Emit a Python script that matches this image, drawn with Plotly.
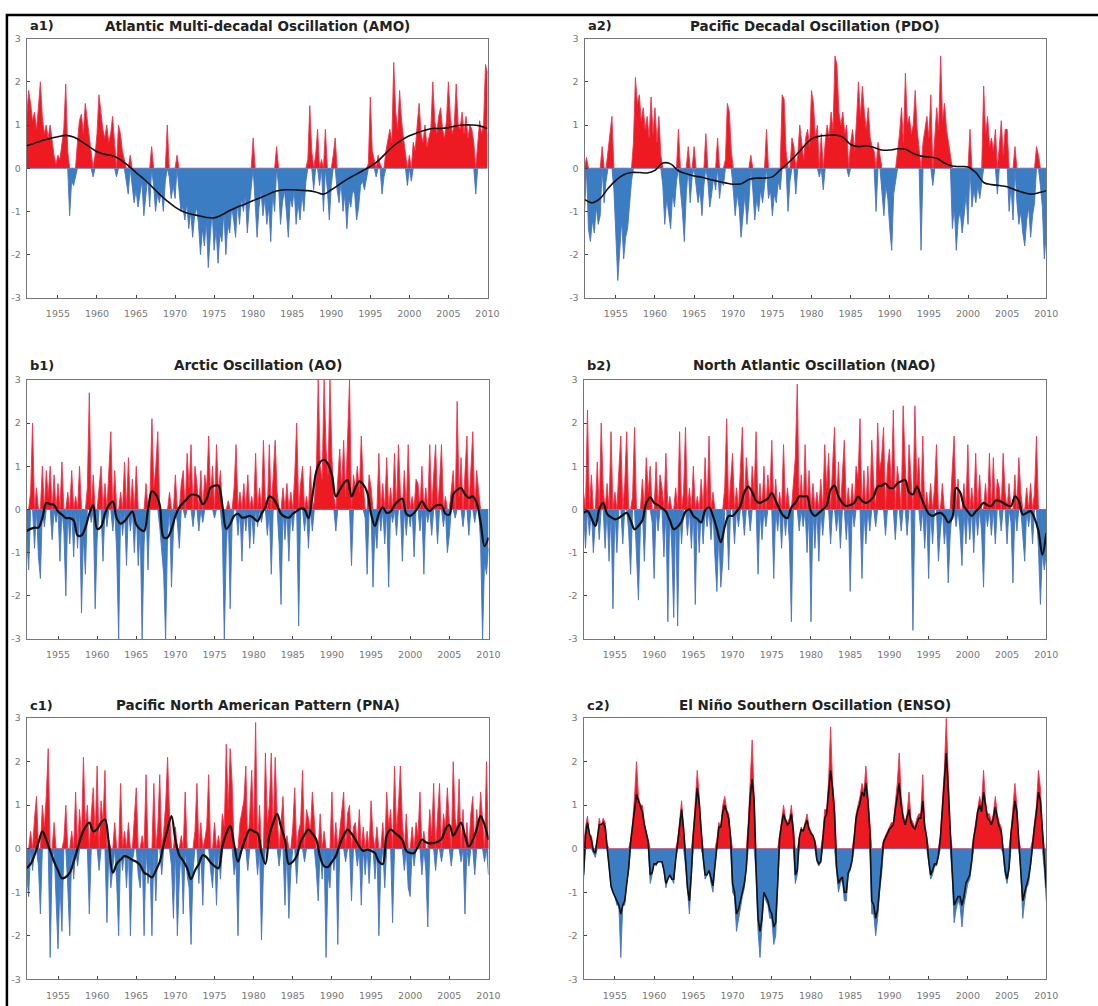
import numpy as np
import plotly.graph_objects as go

# ---------------- time axis ----------------
START_YEAR = 1951.0
STEP_Q = 0.25      # quarterly spikes
YEAR_TICKS = [1955, 1960, 1965, 1970, 1975, 1980, 1985, 1990, 1995, 2000, 2005, 2010]
Y_TICKS = [-3, -2, -1, 0, 1, 2, 3]

# ---------------- a1) AMO ----------------
amo_values = [
    1.2, 1.8, 1.5, 1.1,
    1.3, 0.9, 1.4, 2.0,
    1.2, 0.8, 1.0, 0.7,
    1.0, 0.6, 0.3, 0.1,
    0.3, 0.2, 0.5, 0.9,
    1.95, 0.4, -1.1, -0.3,
    -0.4, -0.2, 0.6, 1.1,
    1.25, 0.8, 1.5, 1.1,
    0.7, 0.4, -0.2, 0.3,
    0.8, 1.7, 1.25, 0.9,
    0.7, 1.0, 0.6, 0.8,
    1.2, 0.5, -0.2, 1.0,
    0.8, 0.4, 0.2, -0.3,
    -0.6, 0.3, -0.4, -0.8,
    -0.5, -0.9, -0.6, -0.3,
    -1.1, -0.6, -0.2, -0.9,
    0.5, -0.4, -1.0, -0.6,
    -0.8, -0.5, -1.0, -0.3,
    1.0, -0.2, -0.7, -0.4,
    -0.7, 0.3, -0.5, -1.0,
    -0.9, -1.2, -0.8, -1.4,
    -1.0, -1.6, -1.1, -0.9,
    -1.3, -2.0, -1.4, -1.8,
    -1.2, -2.3, -1.6, -1.0,
    -1.9, -1.4, -2.2, -1.5,
    -1.7, -1.0, -2.0, -1.3,
    -1.5, -0.9, -1.2, -1.6,
    -0.8, -1.3, -0.7, -1.0,
    -0.6, -1.5, -0.9, -0.4,
    0.7, -0.8, -1.6, -0.9,
    -0.5, -1.1, -0.7, -1.3,
    -0.9, -1.7, -0.6, -1.0,
    0.5, -0.4, -1.3, -0.8,
    -0.5, -1.0, -1.6, -0.7,
    -0.9, -0.5, -1.3, -0.8,
    -1.2, -0.6, -1.0, -0.3,
    0.2, 1.45, 0.4, -0.5,
    0.3, 0.9, -0.4, 0.2,
    -1.0, 0.9, -0.5, -1.2,
    -0.4, 0.3, 0.7, -0.5,
    -0.8, -0.3, -1.0, -0.6,
    -1.4, -0.7, -0.9, -0.5,
    -0.6, -1.2, -0.9, -0.4,
    -0.3, -0.5, -0.2, 0.1,
    1.65, 0.4, 0.2, -0.2,
    0.3, 0.1, -0.6, -0.2,
    0.4, 0.7, 0.9, 0.6,
    2.45, 1.3, 0.9, 1.8,
    1.1, 0.7, 0.4, -0.4,
    0.3, -0.3, 0.6, 0.4,
    1.0, 1.5, 0.8, 0.6,
    1.0, 0.5, 0.7, 0.9,
    2.0, 1.1, 0.8, 1.2,
    1.4, 0.9, 0.7, 1.1,
    2.0, 1.2, 0.8, 1.0,
    1.95, 1.0, 0.9, 1.3,
    0.8, 1.2, 0.7, 1.0,
    0.9, 0.6, -0.6, 0.5,
    1.1, 0.8, 1.0, 2.4,
    2.2,
]
amo_smooth = [  # yearly, 1951..2010
    0.52, 0.58, 0.64, 0.69, 0.73, 0.76, 0.72, 0.62, 0.50, 0.38,
    0.32, 0.29, 0.20, 0.06, -0.10, -0.25, -0.42, -0.60, -0.76, -0.90,
    -1.00, -1.06, -1.10, -1.14, -1.15, -1.08, -0.98, -0.90, -0.83, -0.75,
    -0.68, -0.60, -0.53, -0.50, -0.50, -0.51, -0.52, -0.55, -0.60, -0.50,
    -0.38, -0.26, -0.16, -0.06, 0.04, 0.17, 0.35, 0.52, 0.65, 0.75,
    0.82, 0.88, 0.92, 0.92, 0.94, 0.98, 1.00, 1.00, 0.98, 0.92,
]

# ---------------- a2) PDO ----------------
pdo_values = [
    -1.0, 0.25, -1.4, -1.7,
    -1.2, -1.5, -0.9, -1.3,
    -1.1, 0.5, -0.8, -0.3,
    0.4, 0.9, 1.2, -0.5,
    -1.7, -2.6, -1.9, -1.2,
    -2.1, -1.6, -1.4, -0.8,
    -0.3, 0.6, 2.1, 1.5,
    1.7, 1.1, 1.4, 0.9,
    1.2, 0.7, 1.65, 0.8,
    1.4, 0.6, 1.2, 0.3,
    -0.4, -1.3, -0.7, -1.1,
    -1.4, -0.6, -0.9, -0.3,
    0.9, -0.5, -1.0, -1.7,
    -0.6, 0.5, -0.8, -0.2,
    0.5, -0.4, -0.8, -0.5,
    -1.1, -0.4, 0.8, -0.3,
    -0.9, -0.6, -0.2, -0.5,
    0.7, -0.7, -0.3, -0.4,
    0.2, 1.5, 1.3, 0.4,
    -0.5, -1.1, -0.6, -0.9,
    -1.6, -1.0, -0.6, -1.3,
    -0.8, 0.3, -0.5, -1.2,
    -0.7, -1.0, -0.5, -0.8,
    -0.4, 0.9, -0.7, -0.5,
    -1.1, -0.6, -0.8, -0.3,
    -0.5, 1.7, 1.6, 0.4,
    -1.0, -0.3, 0.7, 0.5,
    -0.6, 0.3, 1.0, 0.6,
    0.2, 0.7, 0.9, 0.5,
    1.8, 1.5, 0.7, 1.0,
    -0.2, 0.8, -0.5, 0.6,
    1.0, 0.7, 1.3, 0.9,
    2.6, 2.4, 1.3, 1.0,
    1.3, 0.8, 1.0, -0.2,
    0.6, 0.9, 0.4, 1.1,
    2.0, 1.2, 1.9, 1.3,
    0.9, 1.4, 0.7, 0.5,
    0.4, -1.0, 0.6, 0.3,
    -0.5, -1.1, -0.4, -0.7,
    -1.4, -1.9, -0.6, -0.3,
    0.4, 0.8, 1.4, 0.6,
    2.2, 1.0, 1.2, 0.8,
    1.0, 1.8, 0.9, 0.5,
    -1.9, 0.6, 0.9, 1.2,
    0.7, 1.7, -0.4, 0.8,
    1.4, 0.9, 2.6, 1.1,
    1.5, 0.9, 0.6, 0.3,
    -1.4, -0.9, -1.9, -1.2,
    -1.0, -1.5, -1.1, -0.6,
    -1.3, 0.9, -0.9, -0.5,
    -0.8, -0.4, -0.7, -0.3,
    1.9, 0.8, 1.2, 0.5,
    0.7, 0.4, 0.9, -0.6,
    0.5, 1.1, 0.3, 0.9,
    0.9, -1.0, -0.4, -1.2,
    0.5, -0.8, -1.3, -1.0,
    -1.5, -1.8, -1.2, -0.9,
    -1.6, -1.1, -0.8, 0.5,
    0.3, -0.4, -0.9, -2.1,
    -1.5,
]
pdo_smooth = [  # yearly, 1951..2010
    -0.72, -0.80, -0.70, -0.47, -0.28, -0.15, -0.10, -0.10, -0.11, -0.05,
    0.12, 0.10, -0.06, -0.13, -0.18, -0.21, -0.26, -0.30, -0.34, -0.37,
    -0.36, -0.26, -0.23, -0.23, -0.20, -0.04, 0.12, 0.30, 0.50, 0.68,
    0.74, 0.76, 0.77, 0.72, 0.55, 0.50, 0.52, 0.48, 0.42, 0.42,
    0.45, 0.44, 0.34, 0.28, 0.26, 0.23, 0.12, 0.05, 0.04, 0.03,
    -0.10, -0.33, -0.38, -0.40, -0.43, -0.50, -0.56, -0.60, -0.57, -0.52,
]

# ---------------- b1) AO ----------------
ao_values = [
    -0.6, -1.4, 0.4, 2.0,
    -0.9, 0.5, -1.1, -1.6,
    1.0, -0.4, 0.9, 0.3,
    1.0, -0.7, 0.8, -0.3,
    0.6, -1.2, 1.1, -0.5,
    -2.0, 0.4, -0.8, 0.9,
    -1.1, 0.3, -0.9, 1.0,
    -2.4, -0.6, -1.5, 0.5,
    2.7, -0.3, 0.8, -2.3,
    -0.7, 0.5, 1.0, -1.2,
    0.6, -0.4, 0.8, 1.8,
    -0.5, 0.9, -1.0, -3.0,
    0.4, -0.6, 1.1, -1.3,
    1.2, -0.5, 0.7, -1.0,
    1.0, -1.3, -0.4, -3.0,
    -0.8, 0.6, -1.4, 0.3,
    2.1, 0.5, 1.0, 1.8,
    -0.4, -1.0, -1.5, -3.0,
    -0.6, 0.4, -1.8, -0.5,
    0.8, -0.3, -0.9, 0.6,
    0.9, -0.2, 1.3, 0.5,
    1.5, -0.4, 1.0, 0.6,
    -0.5, 0.9, -0.3, 0.8,
    0.5, 1.7, 0.3, 1.0,
    -0.2, 1.5, 0.4, 0.9,
    -0.5, -3.0, -0.9, 0.2,
    -2.3, -0.3, 0.5, 1.5,
    -0.6, 0.4, -1.2, 0.6,
    -0.5, 0.8, -0.9, 0.3,
    -0.8, 1.3, -0.4, 0.5,
    -0.3, 1.6, 0.2, -0.6,
    1.5, -1.5, 0.8, 1.6,
    0.4, -0.8, -2.2, 0.5,
    -0.7, 0.6, -1.2, 0.4,
    -0.5, 0.8, 2.0, -2.7,
    0.6, 1.0, -0.5, 0.3,
    -0.9, 1.0, -0.5, 0.2,
    0.8, 3.0, 1.0, 0.7,
    3.0, 1.4, 0.8, 3.0,
    1.2, 0.3, -0.5, 0.6,
    1.4, 0.5, 1.6, 0.3,
    1.5, 3.0, -1.3, 0.8,
    0.5, 1.0, 0.4, 1.7,
    0.6, -0.2, -1.5, 0.8,
    0.5, -1.8, -0.4, -0.9,
    1.3, -0.5, 0.6, -0.8,
    1.2, -1.8, 0.5, -0.3,
    1.3, -0.6, 1.5, 0.4,
    -1.2, 0.9, -0.6, 1.5,
    -0.4, 0.3, -1.1, 0.7,
    0.6, -0.5, 1.0, -1.5,
    0.5, -0.3, 1.5, -0.6,
    0.8, 1.5, -0.8, 0.6,
    1.5, -0.4, 0.3, -1.0,
    -0.6, 0.5, 0.9, -0.2,
    2.5, 0.3, 1.2, -0.4,
    0.9, 1.7, -0.6, 0.8,
    1.8, -0.3, 0.9, 0.4,
    -0.8, -3.0, -1.2, -1.5,
    -0.9,
]
ao_smooth = [  # half-yearly, 1951.0..2010.0
    -0.50, -0.45, -0.42, -0.42, -0.20, 0.15, 0.12, 0.10, -0.05, -0.12,
    -0.20, -0.20, -0.25, -0.60, -0.60, -0.42, -0.10, 0.10, -0.45, -0.40,
    -0.10, 0.10, 0.18, -0.20, -0.33, -0.27, -0.15, -0.05, -0.35, -0.46,
    -0.50, 0.00, 0.42, 0.35, 0.10, -0.65, -0.65, -0.46, -0.15, 0.05,
    0.15, 0.25, 0.34, 0.34, 0.30, 0.12, 0.25, 0.50, 0.55, 0.55,
    0.10, -0.45, -0.34, -0.15, -0.10, -0.19, -0.18, -0.15, -0.20, -0.27,
    -0.10, 0.05, 0.30, 0.25, 0.10, -0.10, -0.17, -0.19, -0.10, -0.04,
    0.02, 0.00, -0.20, 0.30, 0.88, 1.10, 1.15, 1.05, 0.80, 0.30,
    0.45, 0.60, 0.68, 0.30, 0.50, 0.65, 0.58, 0.40, -0.10, -0.38,
    -0.10, 0.05, -0.08, -0.05, 0.10, 0.20, 0.25, -0.10, -0.15, -0.08,
    0.05, 0.19, 0.05, -0.04, 0.06, 0.10, 0.10, -0.10, -0.12, 0.35,
    0.45, 0.50, 0.35, 0.27, 0.30, 0.15, -0.30, -0.85,
    -0.65,
]

# ---------------- b2) NAO ----------------
nao_values = [
    0.4, -0.9, 2.3, -0.6,
    0.8, -1.0, -0.3, 1.1,
    -0.7, 2.0, 0.5, -0.9,
    0.6, -1.2, 1.8, -2.3,
    0.4, -1.0, 0.9, 1.7,
    -0.8, 0.6, 1.8, -0.5,
    -1.5, 0.3, 1.9, -0.9,
    -2.1, -0.4, 0.7, -1.2,
    1.2, 0.4, 1.0, -0.3,
    -1.6, 1.1, -0.5, 0.8,
    0.5, -1.1, 1.3, -2.6,
    0.3, -0.9, -2.5, 0.5,
    -2.7, 1.8, -0.8, 0.4,
    1.9, -0.6, 0.5, -0.9,
    1.0, -2.2, 0.3, -1.0,
    0.7, -0.8, 1.2, -0.4,
    1.7, -0.7, 0.4, -1.1,
    -1.9, -0.5, -1.8, -1.2,
    0.5, 2.1, -1.4, 0.6,
    1.3, -0.8, 0.5, -0.4,
    0.9, 1.9, -0.6, 1.2,
    0.6, -0.5, 1.0, 0.4,
    1.8, -1.5, 0.6, -0.7,
    1.0, -0.4, 0.8, 0.3,
    1.6, -1.6, 0.7, -0.5,
    0.4, -0.9, 1.5, -0.6,
    0.5, -0.8, -2.6, 0.7,
    1.2, 2.9, -0.5, 0.8,
    -0.4, 1.5, -1.0, 0.9,
    -2.6, 0.6, -0.9, 0.4,
    -1.2, 0.7, -0.6, 1.5,
    0.5, 1.3, -0.8, 1.0,
    1.9, -0.5, 1.1, -0.9,
    0.8, 1.6, -0.7, 0.5,
    -1.9, 0.6, -0.4, 1.0,
    0.7, 2.1, -1.6, 0.9,
    -0.8, 1.0, -0.5, 1.6,
    0.6, -0.4, 2.0, 0.9,
    1.2, 1.9, -0.6, 1.0,
    1.4, 0.5, 2.3, -0.7,
    1.0, 0.6, -0.5, 2.4,
    1.1, -0.6, 1.5, 0.7,
    -2.8, 2.4, 0.6, 1.2,
    -0.5, 1.7, -0.9, 0.4,
    -1.6, 0.6, -0.8, 0.5,
    1.5, -1.2, -0.5, 0.6,
    -0.8, -0.3, -1.7, -0.6,
    0.9, 1.7, -0.4, 0.7,
    -0.5, -1.3, 0.6, -0.8,
    1.5, -0.7, 0.5, -1.0,
    1.3, -0.6, 0.8, -0.5,
    -1.8, 0.6, -0.4, 1.3,
    -0.6, 1.2, -0.8, 0.7,
    0.5, -0.5, 1.3, 0.4,
    -0.8, 0.6, -0.3, -1.7,
    0.8, -0.5, 1.2, 0.4,
    -0.6, -1.2, 0.5, -0.4,
    0.6, -0.8, 0.4, 1.7,
    -0.9, -2.2, -1.0, -1.4,
    -1.0,
]
nao_smooth = [  # half-yearly, 1951.0..2010.0
    -0.08, -0.04, -0.20, -0.38, 0.00, 0.15, -0.10, -0.18, -0.23, -0.20,
    -0.13, -0.08, -0.25, -0.46, -0.38, -0.25, 0.15, 0.28, 0.15, 0.10,
    0.03, -0.05, -0.25, -0.46, -0.40, -0.28, -0.05, 0.00, -0.15, -0.22,
    -0.30, -0.02, 0.05, -0.15, -0.45, -0.76, -0.40, -0.15, -0.15, -0.05,
    0.08, 0.40, 0.53, 0.40, 0.20, 0.15, 0.20, 0.25, 0.38, 0.20,
    0.00, -0.15, -0.20, 0.05, 0.15, 0.30, 0.30, 0.30, -0.05, -0.15,
    -0.08, 0.00, 0.10, 0.45, 0.55, 0.30, 0.15, 0.08, 0.10, 0.15,
    0.30, 0.20, 0.15, 0.20, 0.30, 0.53, 0.55, 0.60, 0.50, 0.50,
    0.60, 0.65, 0.69, 0.40, 0.35, 0.53, 0.30, 0.08, -0.10, -0.15,
    -0.10, -0.08, -0.15, -0.30, -0.20, 0.50, 0.40, 0.08, -0.05, -0.15,
    -0.05, 0.05, 0.15, 0.10, 0.08, 0.20, 0.20, 0.15, 0.10, 0.08,
    0.30, 0.20, -0.12, -0.08, -0.04, -0.20, -0.50, -1.05,
    -0.55,
]

# ---------------- c1) PNA ----------------
pna_values = [
    -0.6, -1.1, 0.4, -0.5,
    0.7, 1.2, -0.4, -1.5,
    1.0, 0.5, 1.2, 2.3,
    -2.5, -0.3, 0.6, -1.0,
    -2.3, -0.8, -1.9, 0.2,
    1.0, -0.9, -2.0, 0.4,
    -0.7, 1.3, -0.4, 0.9,
    0.3, 2.1, 0.5, 1.0,
    -1.5, 0.8, 1.4, 0.3,
    1.9, -0.5, 1.1, 0.6,
    1.8, -1.7, 0.2, -0.9,
    -0.4, 0.6, -0.8, -2.0,
    1.5, -0.5, 0.4, -0.9,
    0.6, -2.0, -0.3, 0.7,
    1.4, -0.6, -0.9, 0.3,
    -2.0, 1.7, -0.8, -0.3,
    -2.0, 1.5, -1.2, 0.5,
    1.7, -0.6, 0.4, 1.0,
    2.1, 0.8, -0.4, -1.6,
    0.5, -2.0, -0.7, 0.3,
    -1.5, 1.3, -0.6, -0.9,
    -2.2, -0.5, 0.4, 1.5,
    -0.8, 0.6, -1.3, 0.2,
    0.5, 1.7, -0.5, -0.9,
    0.6, -1.3, 0.3, -0.7,
    0.8, 0.5, 2.4, 0.9,
    2.3, 1.5, -0.6, -0.3,
    -2.0, 0.6, 0.9, 1.1,
    1.9, -0.5, 0.8, 1.8,
    0.4, 2.9, -0.6, 1.0,
    -2.1, -0.5, 2.2, 0.6,
    1.0, 2.2, 0.4, 2.1,
    0.8, -0.4, 0.6, 1.2,
    -1.3, 0.3, -1.6, -0.5,
    0.5, 1.4, -0.8, 0.4,
    0.6, 1.8, -0.3, 0.9,
    0.7, 0.4, 1.3, 0.5,
    -0.5, -1.2, 0.8, -0.7,
    0.4, -2.5, -0.6, -0.9,
    1.3, -0.5, 0.6, -2.2,
    0.4, 0.9, 1.3, -0.3,
    0.8, 1.0, -1.2, 0.5,
    0.6, -0.4, 0.9, -1.3,
    0.5, -0.6, 0.4, -0.8,
    1.1, 0.3, -0.7, 0.5,
    -2.0, -0.4, 0.6, -0.9,
    1.3, 0.5, 0.9, -1.7,
    1.9, 0.4, 1.0, 1.9,
    0.6, -0.5, 0.8, -0.9,
    -1.1, 0.5, -0.4, 0.6,
    0.3, 1.3, -0.6, 0.4,
    -0.5, -1.8, 0.9, 0.3,
    1.5, -0.5, 0.7, 1.5,
    -0.3, 0.8, 0.5, 1.4,
    0.6, -0.4, 2.0, 0.7,
    0.4, 1.6, -0.3, 0.9,
    -1.5, 0.6, -0.4, 0.8,
    1.2, -0.6, 0.9, 0.4,
    1.3, 0.7, -0.3, 2.0,
    -0.6,
]
pna_smooth = [  # half-yearly, 1951.0..2010.0
    -0.45, -0.35, -0.15, 0.13, 0.40, 0.20, -0.05, -0.30, -0.50, -0.68,
    -0.65, -0.55, -0.30, 0.00, 0.30, 0.50, 0.60, 0.40, 0.45, 0.60,
    0.67, 0.10, -0.55, -0.35, -0.25, -0.17, -0.20, -0.26, -0.30, -0.38,
    -0.55, -0.60, -0.66, -0.50, -0.30, 0.10, 0.45, 0.75, 0.20, -0.15,
    -0.28, -0.45, -0.70, -0.50, -0.35, -0.15, -0.20, -0.32, -0.40, -0.45,
    0.05, 0.35, 0.52, 0.10, -0.30, 0.00, 0.25, 0.44, 0.40, 0.35,
    -0.10, -0.35, 0.30, 0.60, 0.80, 0.50, 0.20, -0.35, -0.30, -0.17,
    0.15, 0.32, 0.44, 0.35, 0.21, -0.20, -0.40, -0.42, -0.30, -0.17,
    0.10, 0.30, 0.44, 0.35, 0.21, 0.05, -0.05, -0.02, -0.05, -0.10,
    -0.30, -0.35, 0.30, 0.44, 0.37, 0.30, 0.20, -0.05, -0.10, -0.10,
    0.05, 0.21, 0.15, 0.12, 0.13, 0.16, 0.22, 0.45, 0.55, 0.30,
    0.45, 0.60, 0.30, 0.05, 0.20, 0.45, 0.75, 0.55,
    0.20,
]

# ---------------- c2) ENSO ----------------
enso_values = [
    -0.7, 0.5, 0.75, 0.3,
    0.3, -0.1, -0.2, 0.2,
    0.7, 0.5, 0.7, 0.6,
    0.1, -0.4, -0.9, -1.0,
    -1.1, -1.3, -1.3, -2.5,
    -1.3, -1.3, -0.8, -0.5,
    0.2, 0.6, 1.2, 2.0,
    1.2, 1.0, 1.0, 0.6,
    0.4, 0.2, -0.8, -0.6,
    -0.3, -0.4, -0.3, -0.3,
    -0.3, -0.5, -0.9, -0.7,
    -0.6, -0.7, -0.8, -0.2,
    0.2, 0.6, 1.1, 0.5,
    -0.4, -1.0, -1.5, -0.6,
    0.4, 1.0, 1.8, 1.2,
    0.4, -0.2, -0.7, -0.6,
    -0.5, -0.8, -1.0, -0.4,
    0.2, 0.6, 0.5, 1.0,
    1.2, 0.9, 0.8, 0.3,
    -1.0, -1.1, -1.9, -1.6,
    -1.3, -1.1, -0.9, -0.5,
    0.6, 1.4, 2.5, 1.2,
    -0.6, -1.9, -2.5, -1.8,
    -1.0, -1.2, -1.3, -1.6,
    -1.6, -2.2, -2.0, -0.9,
    0.3, 0.6, 1.0, 0.7,
    0.6, 0.7, 1.0, 0.5,
    -0.8, -0.6, 0.3, 0.5,
    0.4, 0.6, 0.8, 0.5,
    0.4, 0.3, 0.2, -0.3,
    -0.4, -0.3, 0.3, 0.9,
    0.9, 1.6, 2.8, 1.5,
    1.0, -0.5, -1.0, -0.8,
    -0.7, -1.2, -1.2, -0.6,
    -0.5, -0.3, 0.3, 0.8,
    1.0, 1.2, 1.5, 1.3,
    1.9, 1.3, 0.5, -1.5,
    -1.5, -2.0, -1.6, -1.0,
    -0.6, 0.2, 0.3, 0.4,
    0.5, 0.6, 0.6, 1.1,
    1.5, 2.2, 1.2, 0.8,
    0.6, 0.8, 1.3, 0.7,
    0.6, 0.5, 0.7, 0.8,
    0.8, 1.7, 0.6, 0.3,
    -0.3, -0.7, -0.6, -0.4,
    -0.4, -0.2, 0.3, 1.0,
    1.8, 3.0, 1.6, 0.4,
    -0.6, -1.7, -1.4, -1.2,
    -1.3, -1.8, -1.3, -1.0,
    -0.8, -0.7, -0.3, 0.3,
    0.6, 1.0, 1.2, 1.0,
    1.8, 1.1, 0.8, 0.8,
    0.6, 0.8, 1.2, 0.8,
    0.6, 0.5, -0.1, -0.6,
    -0.8, -0.5, 0.4, 0.9,
    1.5, 1.0, 0.2, -0.5,
    -1.6, -1.2, -0.9, -0.8,
    -0.4, 0.2, 0.6, 1.0,
    1.8, 1.4, 0.5, -0.5,
    -1.2,
]
enso_smooth = [  # quarterly, 1951.0..2010.0
    -0.6, 0.3, 0.6, 0.35,
    0.2, -0.05, -0.1, 0.2,
    0.55, 0.55, 0.6, 0.5,
    0.1, -0.4, -0.85, -1.0,
    -1.1, -1.2, -1.3, -1.5,
    -1.3, -1.2, -0.8, -0.45,
    0.15, 0.55, 1.0, 1.25,
    1.1, 0.95, 0.85, 0.55,
    0.35, 0.15, -0.6, -0.55,
    -0.35, -0.35, -0.3, -0.3,
    -0.3, -0.5, -0.8, -0.7,
    -0.6, -0.7, -0.7, -0.25,
    0.15, 0.5, 0.9, 0.45,
    -0.35, -0.9, -1.2, -0.55,
    0.35, 0.9, 1.4, 1.05,
    0.35, -0.2, -0.6, -0.6,
    -0.5, -0.7, -0.85, -0.4,
    0.15, 0.5, 0.5, 0.85,
    1.0, 0.85, 0.7, 0.25,
    -0.8, -1.0, -1.5, -1.4,
    -1.2, -1.0, -0.8, -0.45,
    0.5, 1.2, 1.6, 1.1,
    -0.5, -1.6, -1.9, -1.6,
    -1.0, -1.1, -1.2, -1.4,
    -1.5, -1.8, -1.7, -0.8,
    0.25, 0.55, 0.8, 0.65,
    0.55, 0.6, 0.8, 0.4,
    -0.6, -0.5, 0.25, 0.45,
    0.4, 0.55, 0.65, 0.45,
    0.35, 0.3, 0.15, -0.25,
    -0.35, -0.3, 0.2, 0.7,
    0.8, 1.3, 1.8, 1.4,
    0.8, -0.4, -0.8, -0.7,
    -0.65, -1.0, -1.0, -0.55,
    -0.45, -0.25, 0.25, 0.7,
    0.9, 1.05, 1.3, 1.2,
    1.5, 1.1, 0.4, -1.2,
    -1.3, -1.6, -1.4, -0.9,
    -0.5, 0.15, 0.25, 0.35,
    0.45, 0.5, 0.55, 0.9,
    1.2, 1.5, 1.0, 0.7,
    0.55, 0.7, 0.9, 0.6,
    0.5, 0.45, 0.6, 0.7,
    0.7, 1.1, 0.5, 0.25,
    -0.25, -0.6, -0.5, -0.35,
    -0.35, -0.15, 0.25, 0.9,
    1.5, 2.2, 1.4, 0.35,
    -0.5, -1.3, -1.2, -1.1,
    -1.1, -1.3, -1.1, -0.8,
    -0.7, -0.6, -0.25, 0.25,
    0.5, 0.85, 1.0, 0.85,
    1.3, 0.95, 0.7, 0.65,
    0.55, 0.7, 0.95, 0.7,
    0.5, 0.4, -0.1, -0.5,
    -0.7, -0.45, 0.35, 0.75,
    1.1, 0.85, 0.2, -0.45,
    -1.2, -1.0, -0.8, -0.65,
    -0.35, 0.15, 0.5, 0.85,
    1.3, 1.1, 0.4, -0.4,
    -0.9,
]

# ---------------- figure layout (pixel geometry) ----------------
W, H = 1098, 1006
RED, RED_EDGE = "#ee1a22", "#ea3550"
BLUE, BLUE_EDGE = "#3a7dc2", "#4a74bf"
TITLE_FONT = "DejaVu Sans, Verdana, sans-serif"
TICK_FONT = "DejaVu Sans, Verdana, sans-serif"

panels = [
    dict(tag="a1)", title="Atlantic Multi-decadal Oscillation (AMO)", vals=amo_values,
         smooth=amo_smooth, sstep=1.0, lw=1.6, shape="spline", xpx=(27, 493), ypx=(33, 295)),
    dict(tag="a2)", title="Pacific Decadal Oscillation (PDO)", vals=pdo_values,
         smooth=pdo_smooth, sstep=1.0, lw=1.6, shape="spline", xpx=(591, 1058), ypx=(33, 295)),
    dict(tag="b1)", title="Arctic Oscillation (AO)", vals=ao_values,
         smooth=ao_smooth, sstep=0.5, lw=2.2, shape="spline", xpx=(27, 494), ypx=(378, 640)),
    dict(tag="b2)", title="North Atlantic Oscillation (NAO)", vals=nao_values,
         smooth=nao_smooth, sstep=0.5, lw=2.2, shape="spline", xpx=(590, 1058), ypx=(378, 640)),
    dict(tag="c1)", title="Pacific North American Pattern (PNA)", vals=pna_values,
         smooth=pna_smooth, sstep=0.5, lw=2.2, shape="spline", xpx=(27, 494), ypx=(720, 984)),
    dict(tag="c2)", title="El Niño Southern Oscillation (ENSO)", vals=enso_values,
         smooth=enso_smooth, sstep=0.25, lw=1.6, shape="linear", xpx=(590, 1058), ypx=(720, 984)),
]

fig = go.Figure()
annotations = []
for i, p in enumerate(panels):
    n = i + 1
    xa = "x" if n == 1 else f"x{n}"
    ya = "y" if n == 1 else f"y{n}"
    v = np.array(p["vals"], dtype=float)
    t = START_YEAR + STEP_Q * np.arange(len(v))
    fig.add_trace(go.Scatter(x=t, y=np.maximum(v, 0), mode="lines", fill="tozeroy",
                             fillcolor=RED, line=dict(color=RED_EDGE, width=0.9),
                             xaxis=xa, yaxis=ya, showlegend=False, hoverinfo="skip"))
    fig.add_trace(go.Scatter(x=t, y=np.minimum(v, 0), mode="lines", fill="tozeroy",
                             fillcolor=BLUE, line=dict(color=BLUE_EDGE, width=0.9),
                             xaxis=xa, yaxis=ya, showlegend=False, hoverinfo="skip"))
    s = np.array(p["smooth"], dtype=float)
    ts = START_YEAR + p["sstep"] * np.arange(len(s))
    fig.add_trace(go.Scatter(x=ts, y=s, mode="lines",
                             line=dict(color="#111111", width=p["lw"], shape=p["shape"]),
                             xaxis=xa, yaxis=ya, showlegend=False, hoverinfo="skip"))

    x0, x1 = p["xpx"]
    y0, y1 = p["ypx"]
    xdom = [x0 / W, x1 / W]
    ydom = [1 - y1 / H, 1 - y0 / H]
    xkey = "xaxis" if n == 1 else f"xaxis{n}"
    ykey = "yaxis" if n == 1 else f"yaxis{n}"
    fig.layout[xkey] = dict(
        domain=xdom, anchor=ya, range=[1951, 2010.02],
        tickmode="array", tickvals=YEAR_TICKS, ticktext=[str(y) for y in YEAR_TICKS],
        ticks="inside", ticklen=3, tickcolor="#444", showline=True, linecolor="#777",
        linewidth=1, mirror=True, showgrid=False, zeroline=False,
        tickfont=dict(size=9.5, color="#777", family=TICK_FONT), ticklabelstandoff=7,
        fixedrange=True)
    fig.layout[ykey] = dict(
        domain=ydom, anchor=xa, range=[-3, 3],
        tickmode="array", tickvals=Y_TICKS, ticktext=[str(y) for y in Y_TICKS],
        ticks="inside", ticklen=3, tickcolor="#444", showline=True, linecolor="#777",
        linewidth=1, mirror=True, showgrid=False, zeroline=False,
        tickfont=dict(size=9.5, color="#777", family=TICK_FONT), ticklabelstandoff=3,
        fixedrange=True)

    title_y = {33: 20, 378: 363, 720: 707}[y0]
    annotations.append(dict(text=f"<b>{p['title']}</b>", x=(x0 + x1) / 2 / W, y=1 - title_y / H,
                            xref="paper", yref="paper", xanchor="center", yanchor="middle",
                            showarrow=False, font=dict(size=13.5, color="#222", family=TITLE_FONT)))
    annotations.append(dict(text=f"<b>{p['tag']}</b>", x=(x0 + 1) / W, y=1 - title_y / H,
                            xref="paper", yref="paper", xanchor="left", yanchor="middle",
                            showarrow=False, font=dict(size=13, color="#222", family=TITLE_FONT)))

fig.update_layout(
    width=W, height=H, margin=dict(l=0, r=0, t=0, b=0),
    paper_bgcolor="white", plot_bgcolor="white",
    annotations=annotations, showlegend=False,
    shapes=[dict(type="rect", xref="paper", yref="paper",
                 x0=7 / W, x1=1.02, y0=-0.02, y1=1 - 9 / H,
                 line=dict(color="black", width=2.5), fillcolor="rgba(0,0,0,0)")],
)

fig.write_html("out.html")
